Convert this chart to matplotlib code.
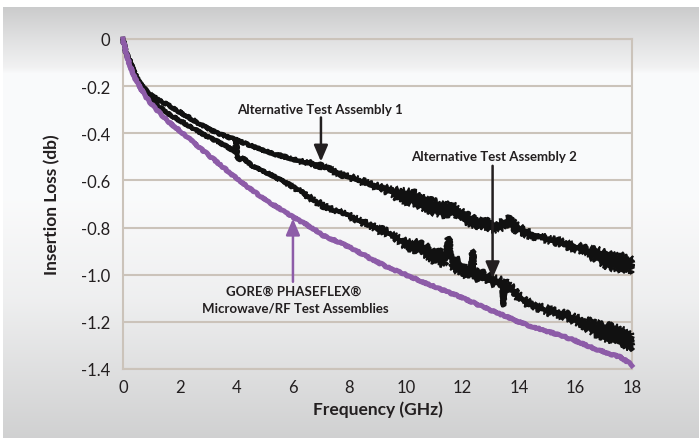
import numpy as np
import matplotlib
matplotlib.use("Agg")
import matplotlib.pyplot as plt

# ---------------- data ----------------
gore_freq = [0.0, 0.05, 0.1, 0.25, 0.5, 0.77, 1.0, 1.36, 1.7, 2.12, 2.5, 3.0, 3.5, 4.1, 4.6,
             5.2, 5.6, 6.0, 6.67, 7.1, 7.6, 8.2, 8.8, 9.4, 10.0, 10.6, 11.2, 12.0,
             12.6, 13.2, 14.0, 14.4, 15.0, 15.5, 16.0, 16.7, 17.2, 17.6, 17.9, 18.0]
gore_loss = [0.0, -0.03, -0.055, -0.115, -0.185, -0.238, -0.275, -0.322, -0.36, -0.40,
             -0.44, -0.49, -0.54, -0.60, -0.645, -0.695, -0.725, -0.755, -0.80, -0.835,
             -0.86, -0.895, -0.935, -0.97, -1.0, -1.03, -1.06, -1.097, -1.13, -1.16,
             -1.20, -1.218, -1.24, -1.258, -1.28, -1.315, -1.335, -1.35, -1.375, -1.385]

asm1_freq = [0.0, 0.05, 0.1, 0.3, 0.53, 0.75, 1.0, 1.3, 1.59, 1.9, 2.18, 2.5, 2.77, 3.1, 3.36,
             3.65, 3.95, 4.4, 4.77, 5.1, 5.4, 5.75, 6.05, 6.5, 6.97, 7.3, 7.67, 8.0,
             8.26, 8.55, 8.85, 9.15, 9.44, 9.75, 10.03, 10.3, 10.6, 10.86, 11.2, 11.45,
             11.6, 11.8, 12.13, 12.4, 12.7, 12.95, 13.17, 13.4, 13.64, 13.9, 14.35,
             14.7, 15.05, 15.4, 15.76, 16.1, 16.47, 16.8, 17.06, 17.35, 17.6, 17.8, 18.0]
asm1_loss = [0.0, -0.03, -0.055, -0.11, -0.175, -0.21, -0.238, -0.262, -0.28, -0.302, -0.322,
             -0.345, -0.365, -0.385, -0.40, -0.413, -0.426, -0.447, -0.464, -0.478,
             -0.49, -0.50, -0.513, -0.524, -0.538, -0.553, -0.572, -0.585, -0.595,
             -0.61, -0.622, -0.632, -0.645, -0.662, -0.668, -0.675, -0.695, -0.707,
             -0.72, -0.728, -0.712, -0.735, -0.762, -0.775, -0.78, -0.79, -0.80, -0.79,
             -0.775, -0.80, -0.827, -0.838, -0.85, -0.86, -0.877, -0.885, -0.905,
             -0.918, -0.935, -0.94, -0.948, -0.95, -0.958]
asm1_spread = [0.0, 0.0, 0.0, 0.0, 0.0, 0.0, 0.0, 0.0, 0.0, 0.0, 0.0, 0.0, 0.0, 0.0, 0.0,
               0.0, 0.0, 0.0, 0.0, 0.0, 0.0, 0.002, 0.004, 0.005, 0.006, 0.006, 0.006,
               0.007, 0.009, 0.01, 0.01, 0.012, 0.015, 0.025, 0.03, 0.03, 0.028, 0.03,
               0.03, 0.03, 0.025, 0.03, 0.025, 0.022, 0.02, 0.02, 0.022, 0.02, 0.02,
               0.02, 0.013, 0.012, 0.012, 0.012, 0.013, 0.015, 0.02, 0.03, 0.035,
               0.038, 0.035, 0.035, 0.03]

asm2_freq = [0.0, 0.05, 0.1, 0.3, 0.53, 0.75, 1.0, 1.3, 1.59, 1.9, 2.18, 2.5, 2.77, 3.1, 3.36,
             3.65, 3.95, 3.99, 4.02, 4.05, 4.1, 4.2, 4.54, 4.9, 5.24, 5.6, 5.9, 6.3,
             6.7, 7.08, 7.5, 7.9, 8.26, 8.6, 9.0, 9.44, 9.75, 10.03, 10.38, 10.7, 11.0,
             11.3, 11.42, 11.46, 11.56, 11.6, 11.9, 12.13, 12.3, 12.33, 12.4, 12.43,
             12.7, 13.05, 13.4, 13.45, 13.5, 13.8, 14.1, 14.35, 14.65, 14.94, 15.25,
             15.52, 15.8, 16.1, 16.4, 16.7, 17.0, 17.29, 17.6, 17.88, 18.0]
asm2_loss = [0.0, -0.03, -0.055, -0.11, -0.18, -0.225, -0.259, -0.29, -0.315, -0.338, -0.358,
             -0.38, -0.40, -0.42, -0.436, -0.455, -0.478, -0.435, -0.435, -0.50,
             -0.515, -0.502, -0.535, -0.556, -0.577, -0.60, -0.62, -0.648, -0.68,
             -0.707, -0.728, -0.745, -0.764, -0.785, -0.805, -0.827, -0.85, -0.87,
             -0.88, -0.898, -0.92, -0.93, -0.935, -0.86, -0.86, -0.945, -0.965, -0.985,
             -0.99, -0.912, -0.912, -1.0, -1.005, -1.025, -1.03, -1.13, -1.04, -1.07,
             -1.105, -1.124, -1.135, -1.15, -1.16, -1.167, -1.18, -1.195, -1.21, -1.23,
             -1.24, -1.252, -1.262, -1.275, -1.28]
asm2_spread = [0.0, 0.0, 0.0, 0.0, 0.0, 0.0, 0.0, 0.0, 0.0, 0.0, 0.0, 0.0, 0.0, 0.0, 0.0,
               0.0, 0.0, 0.0, 0.0, 0.0, 0.0, 0.0, 0.0, 0.0, 0.0, 0.0, 0.002, 0.006,
               0.007, 0.007, 0.007, 0.008, 0.008, 0.009, 0.012, 0.012, 0.014, 0.02,
               0.025, 0.028, 0.03, 0.03, 0.025, 0.012, 0.012, 0.03, 0.03, 0.03, 0.025,
               0.012, 0.012, 0.02, 0.022, 0.02, 0.015, 0.005, 0.02, 0.02, 0.018, 0.015,
               0.014, 0.014, 0.014, 0.015, 0.016, 0.018, 0.025, 0.03, 0.035, 0.04,
               0.04, 0.04, 0.035]

x_ticks = [0, 2, 4, 6, 8, 10, 12, 14, 16, 18]
x_tick_labels = ["0", "2", "4", "6", "8", "10", "12", "14", "16", "18"]
y_ticks = [0, -0.2, -0.4, -0.6, -0.8, -1.0, -1.2, -1.4]
y_tick_labels = ["0", "-0.2", "-0.4", "-0.6", "-0.8", "-1.0", "-1.2", "-1.4"]

# ---------------- style ----------------
TEXT = "#231f20"
GRID = "#cbc3ba"
PURPLE = "#8d5ca8"
BLACK = "#111111"

W, H = 699, 439
fig = plt.figure(figsize=(W / 100, H / 100), dpi=100)

# background gradient panel
bg = fig.add_axes([0, 0, 1, 1], zorder=-10)
rows = np.arange(H)
stops_y = [0, 8, 40, 68, 74, 200, 300, 439]
stops_v = [0.80, 0.80, 0.885, 0.95, 0.985, 0.985, 0.94, 0.82]
col = np.interp(rows, stops_y, stops_v)
img = np.repeat(col[:, None], W, axis=1)
img = np.stack([img * 0.995, img * 0.997, img * 1.0], axis=-1).clip(0, 1)
img[:8, :, :] = 1.0
img[:, :3, :] = 1.0
bg.imshow(img, aspect="auto", extent=[0, W, H, 0], interpolation="bilinear")
bg.set_xlim(0, W)
bg.set_ylim(H, 0)
bg.axis("off")

ax = fig.add_axes([123 / W, 1 - 370 / H, (632 - 123) / W, (370 - 40) / H])
ax.set_facecolor("none")
ax.set_xlim(0, 18)
ax.set_ylim(-1.4, 0)

for s in ax.spines.values():
    s.set_color(GRID)
    s.set_linewidth(1.5)
ax.set_yticks(y_ticks)
ax.set_yticklabels(y_tick_labels)
ax.set_xticks(x_ticks)
ax.set_xticklabels(x_tick_labels)
ax.tick_params(length=0, colors=TEXT, labelsize=12)
ax.tick_params(axis="y", pad=9)
ax.tick_params(axis="x", pad=7)
for lbl in ax.get_xticklabels() + ax.get_yticklabels():
    lbl.set_fontfamily("Lato")
ax.grid(axis="y", color=GRID, lw=1.5)
ax.set_axisbelow(True)

ax.set_xlabel("Frequency (GHz)", fontsize=12.5, fontweight="bold", color=TEXT,
              family="Lato", labelpad=4)
ax.set_ylabel("Insertion Loss (db)", fontsize=12.5, fontweight="bold", color=TEXT,
              family="Lato", labelpad=15)

# curves
def band(f, l, s, sketch):
    f, l, s = map(np.array, (f, l, s))
    xs = np.concatenate([f, f[::-1]])
    ys = np.concatenate([l + s, (l - s)[::-1]])
    p = ax.fill(xs, ys, color=BLACK, lw=1.2, ec=BLACK, zorder=3, clip_on=False)[0]
    p.set_sketch_params(*sketch)

band(asm1_freq, asm1_loss, asm1_spread, (2.2, 3.0, 12.0))
line1, = ax.plot(asm1_freq, asm1_loss, color=BLACK, lw=3.2, zorder=3, clip_on=False)
line1.set_sketch_params(0.9, 4.0, 10.0)
band(asm2_freq, asm2_loss, asm2_spread, (2.2, 3.0, 12.0))
line2, = ax.plot(asm2_freq, asm2_loss, color=BLACK, lw=3.2, zorder=3, clip_on=False)
line2.set_sketch_params(0.9, 4.0, 10.0)
line3, = ax.plot(gore_freq, gore_loss, color=PURPLE, lw=3.6, zorder=4, clip_on=False)
line3.set_sketch_params(0.7, 4.0, 10.0)

# annotations
ann_kw = dict(fontsize=9.5, fontweight="bold", color=TEXT, family="Lato",
              ha="center", va="center")
arrow_style = "-|>,head_length=0.7,head_width=0.3"
ax.text(6.97, -0.297, "Alternative Test Assembly 1", **ann_kw)
ax.annotate("", xy=(7.0, -0.52), xytext=(7.0, -0.333),
            arrowprops=dict(arrowstyle=arrow_style, color=TEXT, lw=1.8,
                            mutation_scale=14, shrinkA=0, shrinkB=0))
ax.text(13.12, -0.497, "Alternative Test Assembly 2", **ann_kw)
ax.annotate("", xy=(13.07, -1.015), xytext=(13.07, -0.538),
            arrowprops=dict(arrowstyle=arrow_style, color=TEXT, lw=1.8,
                            mutation_scale=14, shrinkA=0, shrinkB=0))
ax.text(6.05, -1.07, "GORE\u00ae PHASEFLEX\u00ae", **ann_kw)
ax.text(6.08, -1.138, "Microwave/RF Test Assemblies", **ann_kw)
ax.annotate("", xy=(6.01, -0.762), xytext=(6.01, -1.03),
            arrowprops=dict(arrowstyle=arrow_style, color=PURPLE, lw=1.8,
                            mutation_scale=14, shrinkA=0, shrinkB=0))

fig.savefig("out.png", dpi=100)
